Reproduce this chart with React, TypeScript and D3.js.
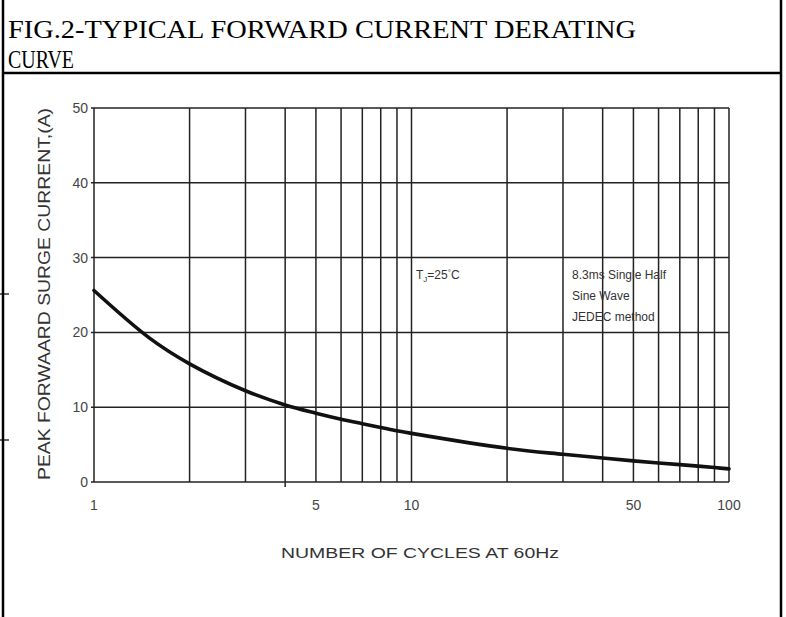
import React from "react";
import * as d3 from "d3";

const cycles = [1, 1.5, 2, 3, 4, 5, 6, 7, 8, 9, 10, 20, 30, 40, 50, 60, 70, 80, 90, 100];
const surgeCurrent = [25.6, 19.2, 15.8, 12.2, 10.3, 9.2, 8.4, 7.8, 7.3, 6.85, 6.5, 4.5, 3.7, 3.2, 2.82, 2.55, 2.32, 2.12, 1.93, 1.75];
const xGrid = [2, 3, 4, 5, 6, 7, 8, 9, 10, 20, 30, 40, 50, 60, 70, 80, 90];
const xTickLabels = [1, 5, 10, 50, 100];
const yTicks = [0, 10, 20, 30, 40, 50];
const titleLines = ["FIG.2-TYPICAL FORWARD CURRENT DERATING", "CURVE"];
const xTitle = "NUMBER OF CYCLES AT 60Hz";
const yTitle = "PEAK FORWAARD SURGE CURRENT,(A)";
const noteLines = ["8.3ms Single Half", "Sine Wave", "JEDEC method"];

export default function App() {
  const W = 786, H = 617;
  const x = d3.scaleLog().domain([1, 100]).range([94, 729]);
  const y = d3.scaleLinear().domain([0, 50]).range([482, 108]);
  const line = d3
    .line<number>()
    .x((_, i) => x(cycles[i]))
    .y((d) => y(d))
    .curve(d3.curveCatmullRom.alpha(0.5));
  const gridColor = "#222";
  const sans = "'Liberation Sans', Arial, sans-serif";
  const serif = "'Liberation Serif', 'Times New Roman', serif";
  return (
    <svg width={W} height={H} style={{ position: "absolute", left: 0, top: 0, background: "#fff" }}>
      <rect x={0} y={0} width={W} height={H} fill="#fff" />
      {/* frame */}
      <line x1={3} y1={0} x2={3} y2={H} stroke="#000" strokeWidth={2.5} />
      <line x1={781} y1={0} x2={781} y2={H} stroke="#000" strokeWidth={2.5} />
      <line x1={3} y1={73} x2={781} y2={73} stroke="#000" strokeWidth={2.5} />
      <line x1={0} y1={294} x2={9} y2={294} stroke="#000" strokeWidth={1.2} />
      <line x1={0} y1={440} x2={9} y2={440} stroke="#000" strokeWidth={1.2} />
      {/* title */}
      <text x={8} y={38} fontFamily={serif} fontSize={26} fill="#000" textLength={628} lengthAdjust="spacingAndGlyphs">
        {titleLines[0]}
      </text>
      <text x={8} y={68} fontFamily={serif} fontSize={26} fill="#000" textLength={66} lengthAdjust="spacingAndGlyphs">
        {titleLines[1]}
      </text>
      {/* horizontal grid */}
      {yTicks.map((t) => (
        <line key={"h" + t} x1={x(1) - 3} x2={x(100)} y1={y(t)} y2={y(t)} stroke={gridColor} strokeWidth={1.5} />
      ))}
      {/* vertical grid */}
      {[1, ...xGrid, 100].map((g) => (
        <line key={"v" + g} x1={x(g)} x2={x(g)} y1={y(50)} y2={y(0) + (g === 4 ? 5 : 0)} stroke={gridColor} strokeWidth={1.5} />
      ))}
      {/* curve */}
      <path d={line(surgeCurrent) || ""} fill="none" stroke="#111" strokeWidth={3.6} strokeLinecap="round" />
      {/* y tick labels */}
      {yTicks.map((t) => (
        <text key={"yl" + t} x={88} y={y(t) + 5} textAnchor="end" fontFamily={sans} fontSize={14} fill="#444">
          {t}
        </text>
      ))}
      {/* x tick labels */}
      {xTickLabels.map((t) => (
        <text key={"xl" + t} x={x(t)} y={510} textAnchor="middle" fontFamily={sans} fontSize={14} fill="#444">
          {t}
        </text>
      ))}
      {/* axis titles */}
      <text x={420} y={558} textAnchor="middle" fontFamily={sans} fontSize={15} fill="#333" textLength={278} lengthAdjust="spacingAndGlyphs">
        {xTitle}
      </text>
      <text
        transform="translate(50,294) rotate(-90)"
        textAnchor="middle"
        fontFamily={sans}
        fontSize={17}
        fill="#333"
        textLength={372}
        lengthAdjust="spacingAndGlyphs"
      >
        {yTitle}
      </text>
      {/* annotations */}
      <text x={416} y={279} fontFamily={sans} fontSize={12} fill="#333">
        T<tspan fontSize={8} dy={3}>J</tspan>
        <tspan dy={-3}>=25</tspan>
        <tspan fontSize={8} dy={-4}>°</tspan>
        <tspan dy={4}>C</tspan>
      </text>
      {noteLines.map((s, i) => (
        <text key={"n" + i} x={572} y={279 + i * 21} fontFamily={sans} fontSize={12} fill="#333">
          {s}
        </text>
      ))}
    </svg>
  );
}
